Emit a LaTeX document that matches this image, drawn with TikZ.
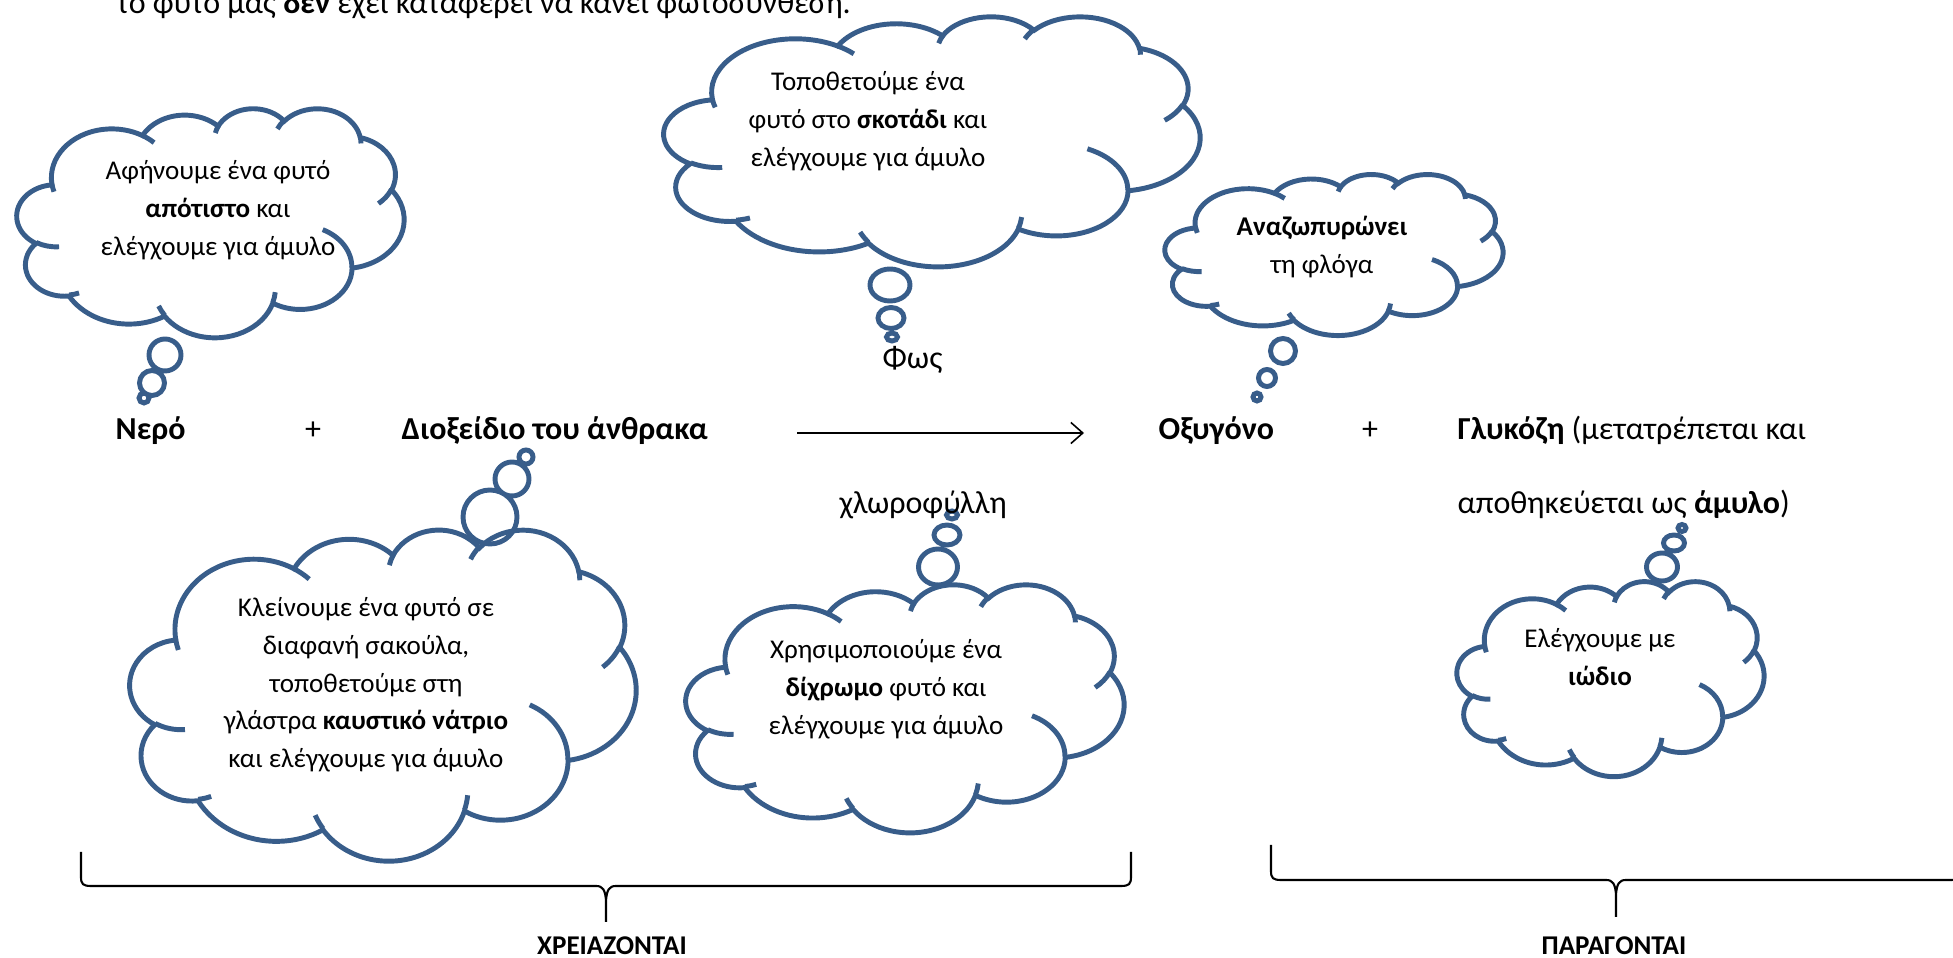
\documentclass[tikz,border=0pt]{standalone}
\usepackage{fontspec}
\setmainfont{Carlito}
\usetikzlibrary{arrows.meta}
\definecolor{wolkenblau}{RGB}{56,93,138}

\newcommand\megali{\fontsize{9.1}{11}\selectfont}
\newcommand\mikri{\fontsize{7.7}{10.67}\selectfont}
\newcommand\grammes[1]{\begin{tabular}[t]{@{}c@{}}#1\end{tabular}}

% one arc of the cloud outline (radii, start angle, sweep as seen on the page)
\newcommand\toxo[4]{%
  \pgfextra{%
    \pgfmathsetmacro\toxoA{atan2((#1)*sin(#3),(#2)*cos(#3))-(#3)}%
    \pgfmathsetmacro\toxoA{\toxoA-360*round(\toxoA/360)}%
    \pgfmathsetmacro\toxoB{atan2((#1)*sin((#3)+(#4)),(#2)*cos((#3)+(#4)))-(#3)-(#4)}%
    \pgfmathsetmacro\toxoB{\toxoB-360*round(\toxoB/360)}%
    \pgfmathsetmacro\toxoS{(#3)+\toxoA}%
    \pgfmathsetmacro\toxoD{(#4)+\toxoB-\toxoA}%
  }%
  arc[x radius=#1, y radius=#2, start angle=\toxoS, delta angle=\toxoD]}

% cloud in the box x, y, width, height
\newcommand\synnefo[4]{%
  \begin{scope}[shift={(#1,#2)}, xscale=#3/432, yscale=#4/432]
    \draw[perigramma, fill=white] (39.00,143.70)
      \toxo{67.53}{91.90}{-190.4875}{123.7805}
      \toxo{53.33}{72.67}{-144.1024}{89.9452}
      \toxo{43.65}{59.45}{-145.8079}{99.7230}
      \toxo{48.57}{65.95}{-130.9861}{117.2417}
      \toxo{53.33}{72.73}{-78.7089}{109.0269}
      \toxo{67.75}{92.20}{-46.2673}{130.2690}
      \toxo{57.85}{78.67}{0.6250}{114.0333}
      \toxo{67.52}{92.15}{22.4516}{115.1726}
      \toxo{77.20}{105.43}{66.2426}{75.7110}
      \toxo{43.60}{59.18}{-274.9421}{146.7356}
      \toxo{43.45}{59.45}{-246.8285}{152.5189} -- cycle;
    \draw[perigramma]
      (46.93,261.77) \toxo{43.45}{59.45}{86.7420}{26.4295}
      (69.28,348.99) \toxo{43.60}{59.18}{73.6105}{11.4475}
      (164.78,390.90) \toxo{67.52}{92.15}{137.6242}{14.0811}
      (288.27,347.51) \toxo{67.52}{92.15}{6.4533}{15.9984}
      (341.29,229.54) \toxo{57.85}{78.67}{-70.2924}{70.9174}
      (417.98,153.54) \toxo{53.33}{72.73}{30.3180}{27.7515}
      (383.24,54.26) \toxo{48.57}{65.95}{-13.7443}{14.8589}
      (290.78,39.52) \toxo{48.57}{65.95}{-149.1815}{18.1954}
      (221.41,47.20) \toxo{43.65}{59.45}{-163.4943}{17.6872}
      (140.00,51.92) \toxo{67.53}{91.90}{-66.7070}{12.3194}
      (41.27,157.89) \toxo{67.53}{91.90}{157.6544}{11.8582};
  \end{scope}}

\begin{document}
\begin{tikzpicture}[x=0.01cm, y=-0.01cm,
    perigramma/.style={draw=wolkenblau, line width=1.4pt},
    keimeno/.style={inner sep=0pt, anchor=base, font=\mikri},
    kyrio/.style={inner sep=0pt, anchor=base west, font=\megali},
    agkyli/.style={draw=black, line width=0.6pt},
    velos/.style={-{Straight Barb[length=3.4pt,width=6pt]}, line width=0.45pt}
  ]
  \clip (0,0) rectangle (1953,958);

  \node[kyrio] (pano) at (116,14)
    {το φυτό μας \textbf{δεν} έχει καταφέρει να κάνει φωτοσύνθεση.};

  % clouds
  \synnefo{17}{108}{387}{229}
  \synnefo{664}{16}{536}{250}
  \synnefo{1165}{174}{338}{161}
  \synnefo{130}{529}{506}{331}
  \synnefo{686}{584}{438}{248}
  \synnefo{1457}{581}{307}{195}

  \draw[perigramma] (165,355) circle[radius=16] (152,383) circle[radius=12.5]
    (144,398) circle[radius=5];
  \draw[perigramma] (890,285) ellipse[x radius=20, y radius=16]
    (891,318) ellipse[x radius=13, y radius=10.5]
    (892,337) ellipse[x radius=5.5, y radius=4];
  \draw[perigramma] (1283,351) circle[radius=12.5] (1267,378) circle[radius=8.5]
    (1257,397) circle[radius=4];
  \draw[perigramma] (490,517) circle[radius=27] (512,479) circle[radius=17]
    (526,457) circle[radius=7];
  \draw[perigramma] (938,567) ellipse[x radius=19.5, y radius=18]
    (947,535) ellipse[x radius=13, y radius=10]
    (952,515) ellipse[x radius=5.5, y radius=4];
  \draw[perigramma] (1662,567) ellipse[x radius=15.5, y radius=14]
    (1674,543) ellipse[x radius=10.5, y radius=8]
    (1682,528) ellipse[x radius=4, y radius=3.5];

  \node[keimeno] (apotisto) at (218,180)
    {\grammes{Αφήνουμε ένα φυτό\\\textbf{απότιστο} και\\ελέγχουμε για άμυλο}};
  \node[keimeno] (skotadi) at (868,91)
    {\grammes{Τοποθετούμε ένα\\φυτό στο \textbf{σκοτάδι} και\\ελέγχουμε για άμυλο}};
  \node[keimeno] (floga) at (1322,236)
    {\grammes{\textbf{Αναζωπυρώνει}\\τη φλόγα}};
  \node[keimeno] (natrio) at (366,617)
    {\grammes{Κλείνουμε ένα φυτό σε\\διαφανή σακούλα,\\τοποθετούμε στη\\
     γλάστρα \textbf{καυστικό νάτριο}\\και ελέγχουμε για άμυλο}};
  \node[keimeno] (dichromo) at (886,659)
    {\grammes{Χρησιμοποιούμε ένα\\\textbf{δίχρωμο} φυτό και\\ελέγχουμε για άμυλο}};
  \node[keimeno] (iodio) at (1600,648)
    {\grammes{Ελέγχουμε με\\\textbf{ιώδιο}}};

  % equation
  \node[kyrio] (nero) at (115,440) {\textbf{Νερό}};
  \node[kyrio, anchor=base] (syn1) at (313,440) {+};
  \node[kyrio] (dioxeidio) at (401,440) {\textbf{Διοξείδιο του άνθρακα}};
  \node[kyrio] (fos) at (882,369) {Φως};
  \node[kyrio] (chlorofylli) at (839,514) {χλωροφύλλη};
  \node[kyrio] (oxygono) at (1158,440) {\textbf{Οξυγόνο}};
  \node[kyrio, anchor=base] (syn2) at (1370,440) {+};
  \node[kyrio] (glykozi) at (1457,440) {\textbf{Γλυκόζη} (μετατρέπεται και};
  \node[kyrio] (amylo) at (1457,514) {αποθηκεύεται ως \textbf{άμυλο})};
  \coordinate (velosA) at (797,433);
  \coordinate (velosB) at (1084,433);
  \draw[velos] (velosA) -- (velosB);

  % braces
  \draw[agkyli] (81,852) -- (81,877) .. controls (81,884) and (83,886) .. (91,886)
    -- (596,886) .. controls (603,886) and (605,890) .. (606,900) -- (606,922)
    (606,900) .. controls (607,890) and (609,886) .. (616,886) -- (1121,886)
    .. controls (1129,886) and (1131,884) .. (1131,877) -- (1131,852);
  \draw[agkyli] (1271,845) -- (1271,871) .. controls (1271,878) and (1273,880) .. (1281,880)
    -- (1606,880) .. controls (1613,880) and (1615,884) .. (1616,894) -- (1616,917)
    (1616,894) .. controls (1617,884) and (1619,880) .. (1626,880) -- (1951,880)
    .. controls (1959,880) and (1961,878) .. (1961,871) -- (1961,845);
  \node[keimeno, font=\mikri\bfseries] (chreiazontai) at (612,955) {ΧΡΕΙΑΖΟΝΤΑΙ};
  \node[keimeno, font=\mikri\bfseries] (paragontai) at (1614,955) {ΠΑΡΑΓΟΝΤΑΙ};
\end{tikzpicture}
\end{document}
